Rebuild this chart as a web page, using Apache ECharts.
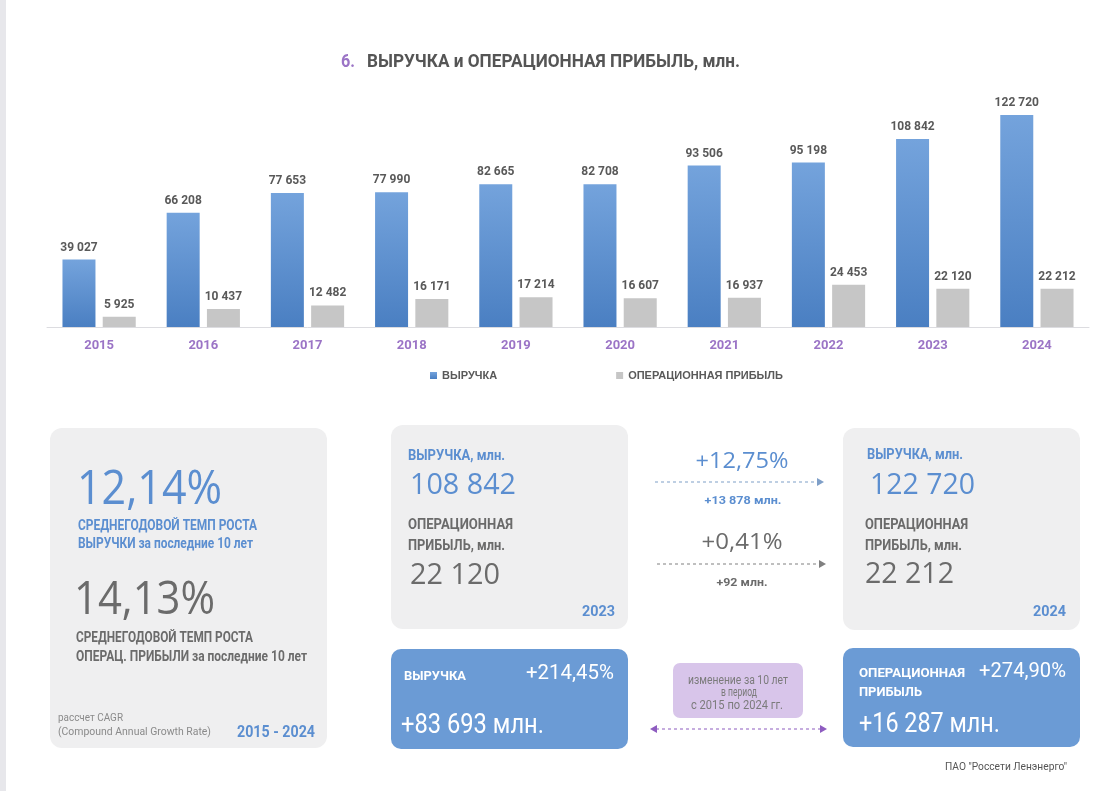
<!DOCTYPE html>
<html><head><meta charset="utf-8">
<script src="https://cdn.jsdelivr.net/npm/echarts@6/dist/echarts.min.js"></script>
<style>html,body{margin:0;padding:0;background:#fff}#c{width:1109px;height:791px}</style>
</head><body><div id="c"></div>
<script>
const years = ['2015','2016','2017','2018','2019','2020','2021','2022','2023','2024'];
const revenue = [39027,66208,77653,77990,82665,82708,93506,95198,108842,122720];
const opProfit = [5925,10437,12482,16171,17214,16607,16937,24453,22120,22212];
const seriesNames = ['ВЫРУЧКА','ОПЕРАЦИОННАЯ ПРИБЫЛЬ'];

const NARROW = 'Roboto,"Liberation Sans",sans-serif';
const WIDE = '"Open Sans",Roboto,sans-serif';
const BLUE = '#5b8ed0', GRAY_T = '#6b6b6b', PURPLE = '#9b74c6';
const fmt = v => String(v).replace(/\B(?=(\d{3})+(?!\d))/g, ' ');

const mctx = document.createElement('canvas').getContext('2d');
function txt(x, y, text, size, color, w, opts) {
  opts = opts || {};
  const font = (opts.weight||'bold')+' '+size+'px '+(opts.family||NARROW);
  mctx.font = font;
  const sx = w ? w / mctx.measureText(text).width : 1;
  return {type:'text', x:x, y:y, scaleX:sx, z:10, style:{text:text, fill:color, font:font,
    align:opts.align||'left', verticalAlign:'middle'}};
}
function rect(x,y,w,h,fill,r){return {type:'rect',shape:{x:x,y:y,width:w,height:h,r:r||10},style:{fill:fill},z:1};}
function dashArrow(x1,x2,y,color,both){
  const els=[{type:'line',shape:{x1:x1,y1:y,x2:x2,y2:y},style:{stroke:color,lineWidth:1.2,lineDash:[3,3]},z:5},
    {type:'polygon',shape:{points:[[x2+6,y],[x2-1,y-4],[x2-1,y+4]]},style:{fill:color},z:5}];
  if(both) els.push({type:'polygon',shape:{points:[[x1-6,y],[x1+1,y-4],[x1+1,y+4]]},style:{fill:color},z:5});
  return els;
}

const graphics = [
  {type:'rect',shape:{x:0,y:0,width:6,height:791},style:{fill:'#e7e7eb'}},
  // title
  txt(341,62,'6.',18,PURPLE,14),
  txt(367,62,'ВЫРУЧКА и ОПЕРАЦИОННАЯ ПРИБЫЛЬ, млн.',18,'#555555',373),
  // left CAGR panel
  rect(50,428,277,320,'#efeff0',12),
  txt(77,490,'12,14%',48,BLUE,145,{weight:'normal',family:WIDE}),
  txt(78,526,'СРЕДНЕГОДОВОЙ ТЕМП РОСТА',15,BLUE,179),
  txt(78,544,'ВЫРУЧКИ за последние 10 лет',15,BLUE,175),
  txt(74,601,'14,13%',46,GRAY_T,141,{weight:'normal',family:WIDE}),
  txt(76,638,'СРЕДНЕГОДОВОЙ ТЕМП РОСТА',15,GRAY_T,177),
  txt(76,657,'ОПЕРАЦ. ПРИБЫЛИ за последние 10 лет',15,GRAY_T,231),
  txt(58,718,'рассчет CAGR',11,'#8a8a8a',65,{weight:'normal'}),
  txt(58,732,'(Compound Annual Growth Rate)',11,'#8a8a8a',153,{weight:'normal'}),
  txt(315,733,'2015 - 2024',16,BLUE,78,{align:'right'}),
  // 2023 panel
  rect(391,425,237,204,'#efeff0',12),
  txt(408,456,'ВЫРУЧКА, млн.',14,BLUE,97),
  txt(410,485,'108 842',30,BLUE,106,{weight:'normal',family:WIDE}),
  txt(408,525,'ОПЕРАЦИОННАЯ',14,GRAY_T,105),
  txt(408,546,'ПРИБЫЛЬ, млн.',14,GRAY_T,97),
  txt(410,575,'22 120',30,GRAY_T,90,{weight:'normal',family:WIDE}),
  txt(615,612,'2023',15,BLUE,33,{align:'right'}),
  // middle arrows
  txt(742,462,'+12,75%',21,BLUE,93,{weight:'normal',family:WIDE,align:'center'}),
  ...dashArrow(655,818,482,'#7f9fc8'),
  txt(743,501,'+13 878 млн.',11,BLUE,77,{align:'center'}),
  txt(742,543,'+0,41%',21,GRAY_T,81,{weight:'normal',family:WIDE,align:'center'}),
  ...dashArrow(657,820,564,'#808080'),
  txt(742,583,'+92 млн.',11,GRAY_T,51,{align:'center'}),
  // 2024 panel
  rect(843,428,237,202,'#efeff0',12),
  txt(867,455,'ВЫРУЧКА, млн.',14,BLUE,96),
  txt(870,485,'122 720',30,BLUE,105,{weight:'normal',family:WIDE}),
  txt(865,525,'ОПЕРАЦИОННАЯ',14,GRAY_T,103),
  txt(865,546,'ПРИБЫЛЬ, млн.',14,GRAY_T,97),
  txt(865,574,'22 212',30,GRAY_T,89,{weight:'normal',family:WIDE}),
  txt(1066,612,'2024',15,BLUE,33,{align:'right'}),
  // bottom blue boxes
  rect(391,649,237,100,'#6b9bd5',10),
  txt(404,677,'ВЫРУЧКА',13,'#ffffff',62),
  txt(614,674,'+214,45%',21,'#ffffff',88,{weight:'normal',align:'right'}),
  txt(401,726,'+83 693 млн.',27,'#ffffff',143,{weight:'normal'}),
  rect(673,663,130,55,'#d8c5ea',7),
  txt(738,681,'изменение за 10 лет',12,'#7b7b7b',100,{weight:'normal',align:'center'}),
  txt(739,693,'в период',12,'#7b7b7b',36,{weight:'normal',align:'center'}),
  txt(737,706,'с 2015 по 2024 гг.',12,'#7b7b7b',92,{weight:'normal',align:'center'}),
  ...dashArrow(656,821,729,'#8e5cc0',true),
  rect(843,648,237,99,'#6b9bd5',10),
  txt(859,674,'ОПЕРАЦИОННАЯ',13,'#ffffff',106),
  txt(859,693,'ПРИБЫЛЬ',13,'#ffffff',63),
  txt(1066,672,'+274,90%',21,'#ffffff',87,{weight:'normal',align:'right'}),
  txt(859,725,'+16 287 млн.',27,'#ffffff',141,{weight:'normal'}),
  txt(1067,767,'ПАО "Россети Ленэнерго"',10,'#555555',122,{weight:'normal',align:'right'})
];

const chart = echarts.init(document.getElementById('c'), null, {renderer:'canvas'});
chart.setOption({
  backgroundColor:'#ffffff',
  animation:false,
  legend:{left:425, top:365, itemWidth:7, itemHeight:7, itemGap:119, icon:'rect',
    textStyle:{color:'#595959',fontSize:11,fontWeight:'bold',fontFamily:'"Liberation Sans",Roboto,sans-serif'},
    data:seriesNames},
  grid:{left:47, right:20, top:102.5, bottom:464, containLabel:false},
  xAxis:{type:'category', data:years,
    axisLine:{lineStyle:{color:'#dcdce0'}}, axisTick:{show:false},
    axisLabel:{color:PURPLE,fontSize:13,fontWeight:'bold',fontFamily:NARROW,margin:12}},
  yAxis:{type:'value', min:0, max:130000, show:false, splitLine:{show:false}},
  series:[
    {name:seriesNames[0], type:'bar', data:revenue, barWidth:33, barGap:'22%',
     itemStyle:{color:new echarts.graphic.LinearGradient(0,0,0,1,[{offset:0,color:'#74a3dc'},{offset:1,color:'#4a7fc2'}])},
     label:{show:true,position:'top',distance:6,color:'#595959',fontSize:12,fontWeight:'bold',fontFamily:NARROW,formatter:p=>fmt(p.value)}},
    {name:seriesNames[1], type:'bar', data:opProfit, barWidth:33,
     itemStyle:{color:'#c6c6c6'},
     label:{show:true,position:'top',distance:6,color:'#595959',fontSize:12,fontWeight:'bold',fontFamily:NARROW,formatter:p=>fmt(p.value)}}
  ],
  graphic:graphics
});
</script></body></html>
